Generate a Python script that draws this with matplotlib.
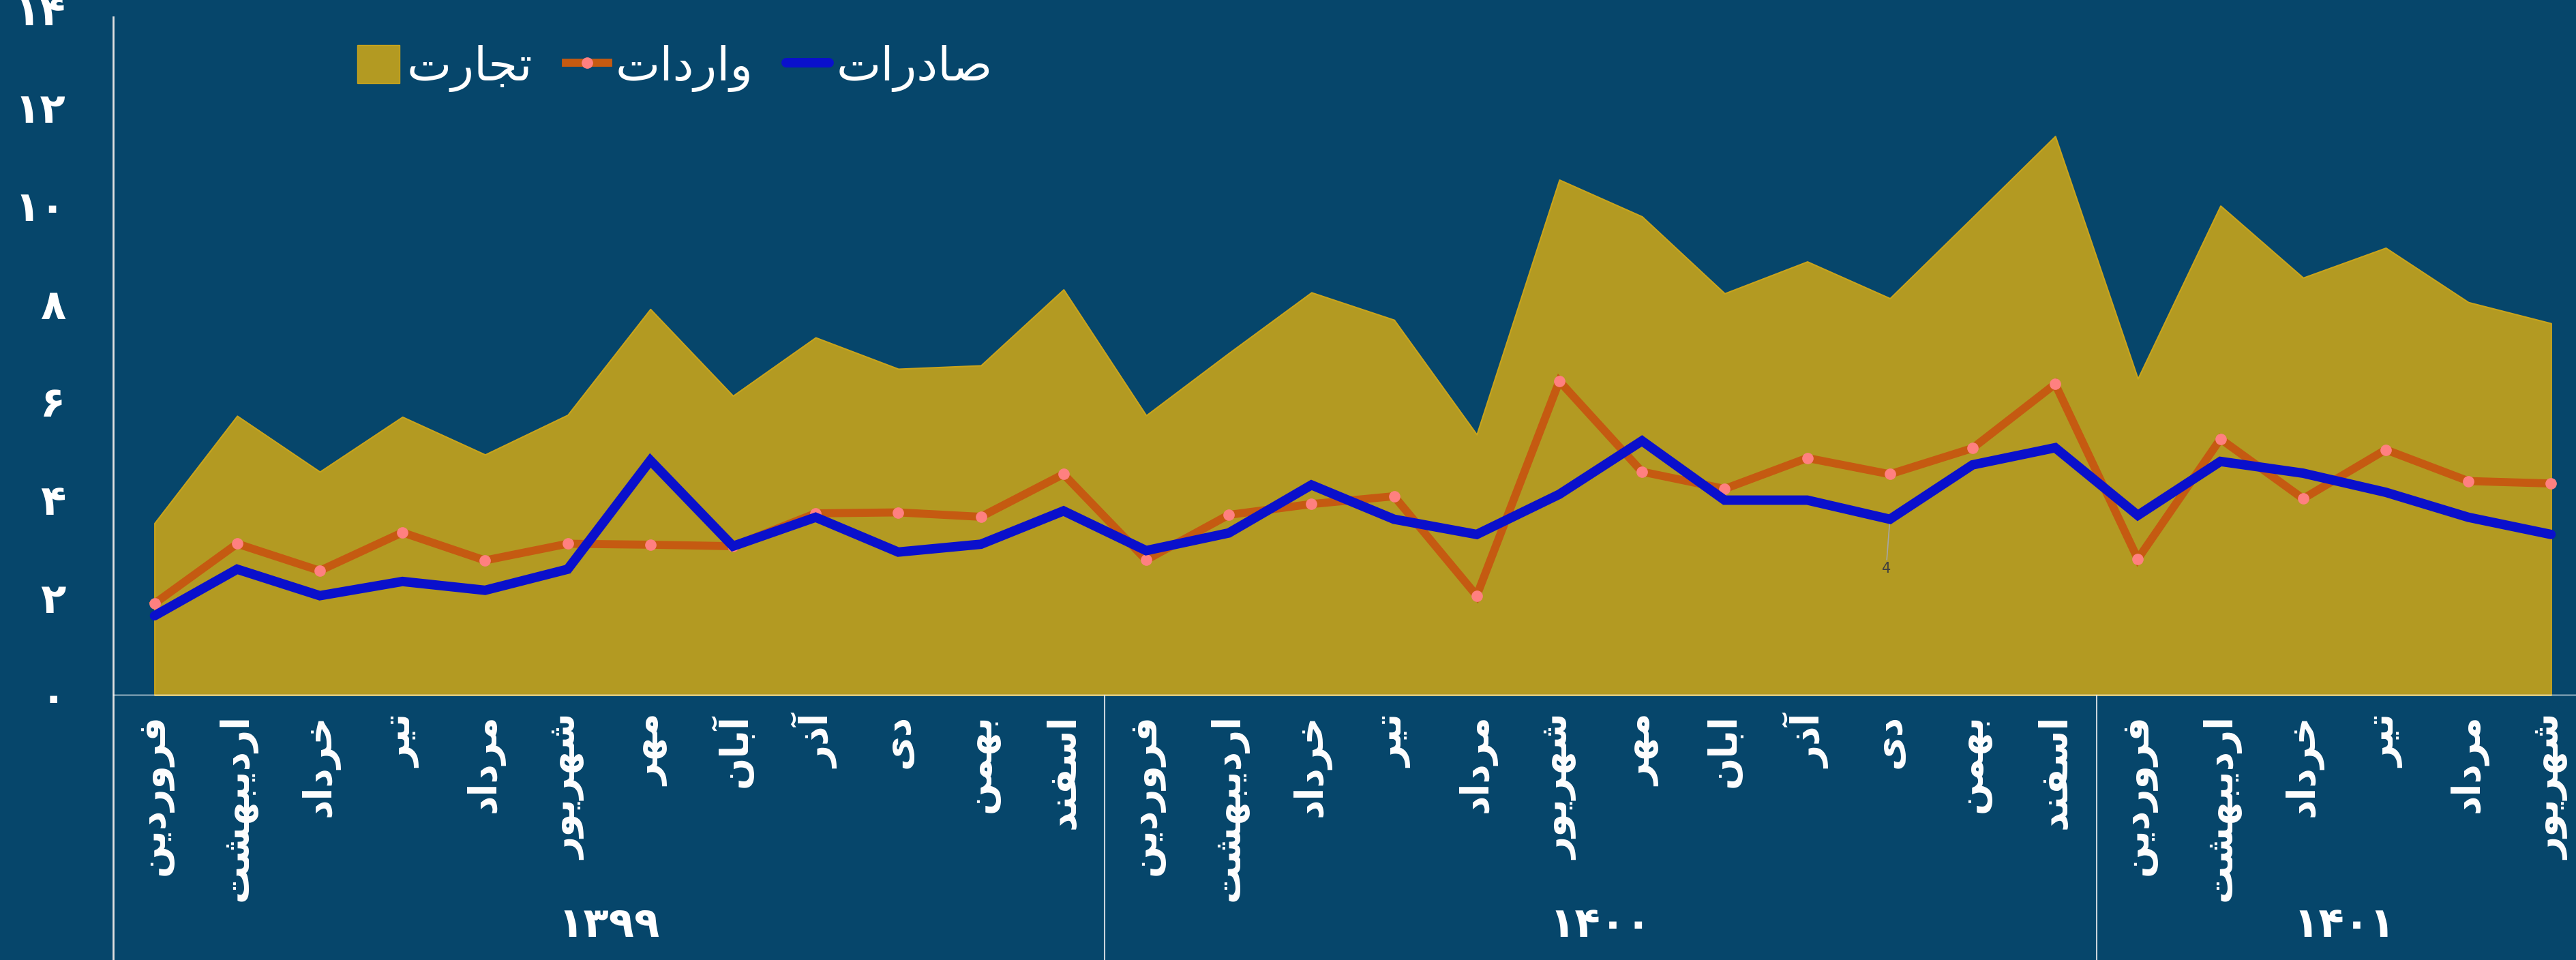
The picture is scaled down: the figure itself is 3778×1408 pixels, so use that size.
import matplotlib
matplotlib.use('Agg')
import matplotlib.pyplot as plt
from matplotlib.patches import Patch
from matplotlib.lines import Line2D

# monthly values (billion $)
months = ['فروردین', 'اردیبهشت', 'خرداد', 'تیر', 'مرداد', 'شهریور',
          'مهر', 'آبان', 'آذر', 'دی', 'بهمن', 'اسفند',
          'فروردین', 'اردیبهشت', 'خرداد', 'تیر', 'مرداد', 'شهریور',
          'مهر', 'ابان', 'آذر', 'دی', 'بهمن', 'اسفند',
          'فروردین', 'اردیبهشت', 'خرداد', 'تیر', 'مرداد', 'شهریور']
years = ['1399', '1400', '1401']
year_len = [12, 12, 6]

trade = [3.51, 5.70, 4.56, 5.68, 4.91, 5.72, 7.88, 6.11, 7.30, 6.66, 6.73, 8.28,
         5.71, 6.98, 8.22, 7.66, 5.32, 10.52, 9.77, 8.20, 8.85, 8.10, 9.75, 11.41,
         6.46, 9.99, 8.52, 9.13, 8.02, 7.59]
imports = [1.87, 3.09, 2.54, 3.32, 2.75, 3.09, 3.07, 3.04, 3.71, 3.73, 3.64, 4.51,
           2.76, 3.68, 3.90, 4.06, 2.03, 6.41, 4.56, 4.21, 4.84, 4.51, 5.04, 6.35,
           2.78, 5.23, 4.01, 5.01, 4.37, 4.32]
exports = [1.62, 2.57, 2.03, 2.32, 2.14, 2.57, 4.79, 3.04, 3.63, 2.92, 3.08, 3.76,
           2.95, 3.31, 4.29, 3.59, 3.28, 4.10, 5.19, 3.98, 3.98, 3.59, 4.70, 5.05,
           3.67, 4.77, 4.53, 4.14, 3.63, 3.28]

# matplotlib has no arabic shaping, so pick presentation forms by hand
FORMS = {
    'ا': ('\uFE8D', '\uFE8E', None, None),
    'آ': ('\uFE81', '\uFE82', None, None),
    'ب': ('\uFE8F', '\uFE90', '\uFE91', '\uFE92'),
    'ت': ('\uFE95', '\uFE96', '\uFE97', '\uFE98'),
    'ج': ('\uFE9D', '\uFE9E', '\uFE9F', '\uFEA0'),
    'خ': ('\uFEA5', '\uFEA6', '\uFEA7', '\uFEA8'),
    'د': ('\uFEA9', '\uFEAA', None, None),
    'ذ': ('\uFEAB', '\uFEAC', None, None),
    'ر': ('\uFEAD', '\uFEAE', None, None),
    'س': ('\uFEB1', '\uFEB2', '\uFEB3', '\uFEB4'),
    'ش': ('\uFEB5', '\uFEB6', '\uFEB7', '\uFEB8'),
    'ص': ('\uFEB9', '\uFEBA', '\uFEBB', '\uFEBC'),
    'ف': ('\uFED1', '\uFED2', '\uFED3', '\uFED4'),
    'م': ('\uFEE1', '\uFEE2', '\uFEE3', '\uFEE4'),
    'ن': ('\uFEE5', '\uFEE6', '\uFEE7', '\uFEE8'),
    'ه': ('\uFEE9', '\uFEEA', '\uFEEB', '\uFEEC'),
    'و': ('\uFEED', '\uFEEE', None, None),
    'ی': ('\uFEEF', '\uFEF0', '\uFEF3', '\uFEF4'),
}


def shape(word):
    out = []
    for i, ch in enumerate(word):
        f = FORMS.get(ch)
        if f is None:
            out.append(ch)
            continue
        prev = word[i - 1] if i > 0 else None
        nxt = word[i + 1] if i + 1 < len(word) else None
        jp = prev in FORMS and FORMS[prev][2] is not None
        jn = f[2] is not None and nxt in FORMS
        if jp and jn:
            out.append(f[3])
        elif jp:
            out.append(f[1])
        elif jn:
            out.append(f[2])
        else:
            out.append(f[0])
    return ''.join(reversed(out))


fa = str.maketrans('0123456789', '۰۱۲۳۴۵۶۷۸۹')

bg = '#06466B'
gold = '#B39A22'
orange = '#C55A11'
pink = '#FF8080'
blue = '#0A10CC'

plt.rcParams['font.family'] = ['DejaVu Sans']

fig = plt.figure(figsize=(37.78, 14.08), dpi=100, facecolor=bg)
ax = fig.add_axes([0.04394, 0.27592, 0.9624, 0.71442])
ax.set_facecolor(bg)

x = list(range(len(months)))
ax.fill_between(x, 0, trade, color=gold, edgecolor='#C9A41C', linewidth=1.5, zorder=1)
ax.plot(x, imports, color=orange, lw=8.5, marker='o', ms=11, mfc=pink, mec=pink,
        solid_joinstyle='miter', zorder=3)
ax.plot(x, exports, color=blue, lw=10, solid_capstyle='round', solid_joinstyle='miter', zorder=4)

ax.annotate('4', xy=(21, exports[21]), xytext=(-4, -52), textcoords='offset points',
            ha='center', va='center', fontsize=15, color='#404040',
            arrowprops=dict(arrowstyle='-', color='#A6A6A6', lw=1.2, shrinkA=0, shrinkB=0))

ax.set_xlim(-0.5, 29.5)
ax.set_ylim(0, 14)
for s in ax.spines.values():
    s.set_visible(False)
ax.axhline(0, color='white', lw=2.5, zorder=5)

ax.set_yticks(range(0, 15, 2))
ax.set_yticklabels([str(v).translate(fa) for v in range(0, 15, 2)],
                   fontsize=44, fontweight='bold', color='white')
ax.set_xticks(x)
ax.set_xticklabels([shape(m) for m in months], rotation=90, fontsize=40,
                   fontweight='bold', color='white')
ax.tick_params(axis='y', length=0, pad=50)
ax.tick_params(axis='x', length=0, pad=20)

# left spine and group separators running down to the bottom edge
tr = ax.get_xaxis_transform()
ax.plot([-0.5, -0.5], [-0.4, 0.9887], transform=tr, color='#E0E0E0', lw=2, clip_on=False)
start = 0
for name, n in zip(years, year_len):
    if start > 0:
        ax.plot([start - 0.5, start - 0.5], [0, -0.4], transform=tr, color='#C8D3DC',
                lw=1.5, clip_on=False)
    ax.text(start + n / 2 - 0.5, -0.3365, name.translate(fa), transform=tr,
            ha='center', va='center', fontsize=44, fontweight='bold', color='white')
    start += n

handles = [Patch(facecolor=gold, edgecolor='#C9A41C', label=shape('تجارت')),
           Line2D([], [], color=orange, lw=8.5, marker='o', ms=11, mfc=pink, mec=pink,
                  label=shape('واردات')),
           Line2D([], [], color=blue, lw=10, solid_capstyle='round', label=shape('صادرات'))]
leg = fig.legend(handles=handles, ncol=3, loc='center', bbox_to_anchor=(0.262, 0.929),
                 frameon=False, fontsize=50, handlelength=0.9, handleheight=0.85,
                 handletextpad=0.15, columnspacing=0.7)
for t in leg.get_texts():
    t.set_color('white')

fig.savefig('out.png', dpi=100, facecolor=bg)
